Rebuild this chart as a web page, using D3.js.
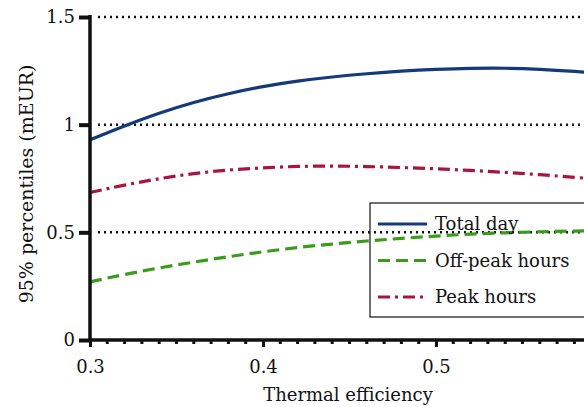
<!DOCTYPE html>
<html>
<head>
<meta charset="utf-8">
<script src="https://cdn.jsdelivr.net/npm/d3@7"></script>
<style>
  html, body { margin: 0; padding: 0; background: #fff; }
  svg { display: block; }
  text { font-family: "DejaVu Serif", serif; fill: #111; }
</style>
</head>
<body>
<svg id="chart" width="584" height="407"></svg>
<script>
// Thermal efficiency grid (x values)
const efficiency = [0.30, 0.32, 0.34, 0.36, 0.38, 0.40, 0.42, 0.44, 0.46, 0.48, 0.50, 0.52, 0.54, 0.56, 0.58, 0.60];
// 95% percentiles, mEUR
const totalDay = [0.93, 0.995, 1.055, 1.105, 1.145, 1.178, 1.203, 1.222, 1.237, 1.249, 1.257, 1.262, 1.263, 1.258, 1.248, 1.235];
const offPeak  = [0.27, 0.305, 0.335, 0.362, 0.387, 0.41, 0.43, 0.446, 0.46, 0.472, 0.483, 0.492, 0.498, 0.503, 0.506, 0.508];
const peak     = [0.685, 0.72, 0.75, 0.774, 0.79, 0.80, 0.807, 0.808, 0.806, 0.801, 0.795, 0.788, 0.778, 0.768, 0.756, 0.742];
const seriesNames = ["Total day", "Off-peak hours", "Peak hours"];
const xTicks = [0.3, 0.4, 0.5];
const yTicks = [0, 0.5, 1, 1.5];

const svg = d3.select("#chart");
const W = 584, H = 407;

const x = d3.scaleLinear().domain([0.3, 0.6]).range([90, 609]);
const y = d3.scaleLinear().domain([0, 1.5]).range([340, 17]);

svg.append("defs").append("clipPath").attr("id", "plot")
  .append("rect").attr("x", 90).attr("y", 0).attr("width", W - 90).attr("height", 341);

// dotted horizontal grid
svg.append("g").selectAll("line")
  .data(yTicks.filter(d => d > 0))
  .join("line")
  .attr("x1", x(0.3) + 8).attr("x2", W)
  .attr("y1", d => y(d)).attr("y2", d => y(d))
  .attr("stroke", "#111").attr("stroke-width", 2.5)
  .attr("stroke-dasharray", "2,4");

const styles = [
  { data: totalDay, color: "#143a7c", dash: null },
  { data: offPeak,  color: "#3a9c1c", dash: "12,6" },
  { data: peak,     color: "#a8153f", dash: "12,5,3,5" }
];

const line = d3.line()
  .x((d, i) => x(efficiency[i]))
  .y(d => y(d))
  .curve(d3.curveBasis);

const lines = svg.append("g").attr("clip-path", "url(#plot)");
styles.forEach(s => {
  lines.append("path")
    .attr("d", line(s.data))
    .attr("fill", "none")
    .attr("stroke", s.color)
    .attr("stroke-width", 3.2)
    .attr("stroke-dasharray", s.dash);
});

// x axis: major ticks with labels, minor ticks every 0.01
const xAxis = d3.axisBottom(x).tickValues(xTicks).tickSize(7).tickFormat(d3.format(".1f"));
const gx = svg.append("g").attr("transform", `translate(0,${y(0)})`).call(xAxis);
gx.select(".domain").remove();
gx.selectAll(".tick line").attr("stroke", "#111").attr("stroke-width", 3);
gx.selectAll(".tick text").attr("font-size", 18).attr("dy", "1.3em")
  .attr("font-family", "DejaVu Serif").attr("fill", "#111");
const minor = d3.range(31).map(i => 0.3 + i * 0.01).filter(v => Math.abs(v * 10 - Math.round(v * 10)) > 1e-6);
svg.append("g").selectAll("line").data(minor).join("line")
  .attr("x1", d => x(d)).attr("x2", d => x(d))
  .attr("y1", y(0)).attr("y2", y(0) + 4)
  .attr("stroke", "#111").attr("stroke-width", 3);
svg.append("line").attr("x1", x(0.3) - 1.5).attr("x2", W)
  .attr("y1", y(0)).attr("y2", y(0)).attr("stroke", "#111").attr("stroke-width", 3.5);

// y axis
const yAxis = d3.axisLeft(y).tickValues(yTicks).tickSize(11).tickFormat(d => String(d));
const gy = svg.append("g").attr("transform", `translate(${x(0.3)},0)`).call(yAxis);
gy.select(".domain").remove();
gy.selectAll(".tick line").attr("stroke", "#111").attr("stroke-width", 4);
gy.selectAll(".tick text").attr("font-size", 18).attr("x", -15)
  .attr("font-family", "DejaVu Serif").attr("fill", "#111");
svg.append("line").attr("x1", x(0.3)).attr("x2", x(0.3))
  .attr("y1", y(1.5) - 2).attr("y2", y(0)).attr("stroke", "#111").attr("stroke-width", 3.5);

// axis titles
svg.append("text").attr("x", 348).attr("y", 401).attr("text-anchor", "middle")
  .attr("font-size", 18).text("Thermal efficiency");
svg.append("text").attr("transform", "translate(33,184) rotate(-90)").attr("text-anchor", "middle")
  .attr("font-size", 19).text("95% percentiles (mEUR)");

// legend
const lg = svg.append("g").attr("transform", "translate(370,203)");
lg.append("rect").attr("x", 0).attr("y", 0).attr("width", 260).attr("height", 114)
  .attr("fill", "none").attr("stroke", "#111").attr("stroke-width", 1.2);
seriesNames.forEach((name, i) => {
  const yy = 21 + i * 36.5;
  lg.append("line").attr("x1", 8).attr("x2", 57).attr("y1", yy).attr("y2", yy)
    .attr("stroke", styles[i].color).attr("stroke-width", 3.2)
    .attr("stroke-dasharray", styles[i].dash);
  lg.append("text").attr("x", 65).attr("y", yy + 6).attr("font-size", 18).text(name);
});
</script>
</body>
</html>
